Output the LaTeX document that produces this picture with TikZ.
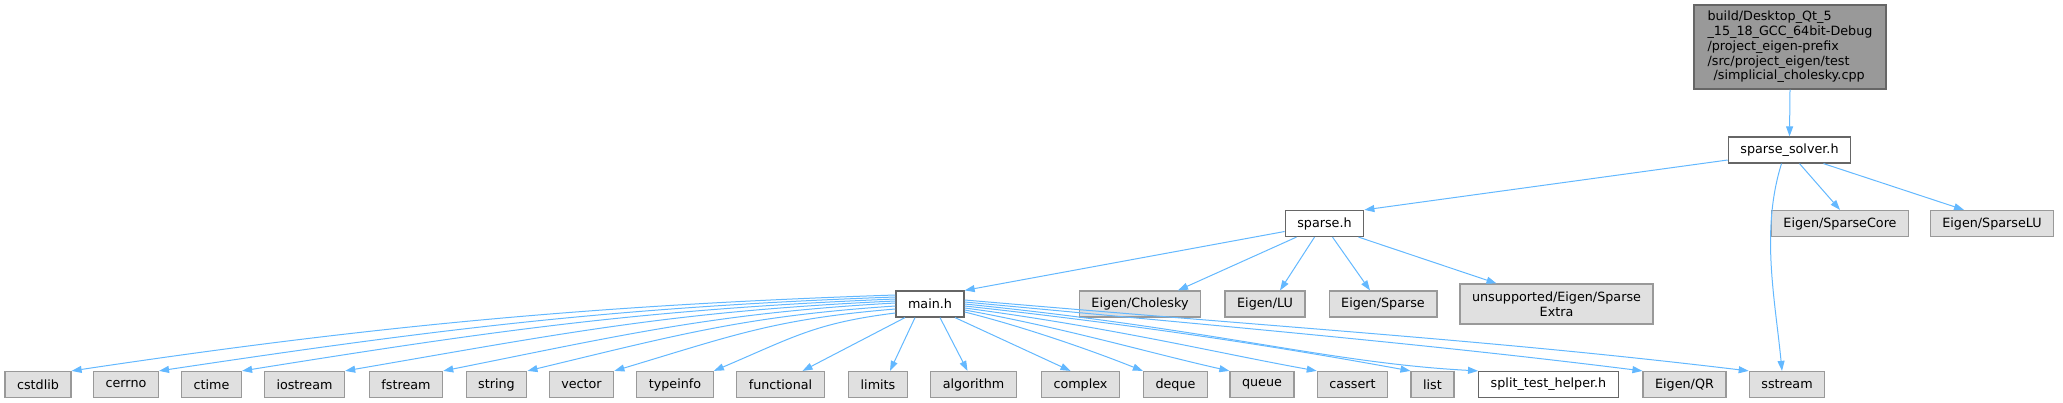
\documentclass[tikz,border=0pt]{standalone}
\usepackage{fontspec}
\setmainfont{DejaVu Sans}
\usetikzlibrary{arrows.meta}
\definecolor{edgec}{HTML}{63B8FF}
\definecolor{rootfill}{HTML}{999999}
\definecolor{bord}{HTML}{666666}
\definecolor{gfill}{HTML}{E0E0E0}
\definecolor{gbord}{HTML}{999999}
\tikzset{
 base/.style={rectangle, minimum height=26pt, inner xsep=12.1pt, inner ysep=0pt, line width=1.2pt, text=black, font=\fontsize{12.74}{14.8}\selectfont},
 wnode/.style={base, draw=bord, fill=white},
 gnode/.style={base, draw=gbord, fill=gfill},
 rootnode/.style={base, draw=bord, fill=rootfill, align=left, minimum width=192pt, minimum height=84pt},
 dep/.style={draw=edgec, line width=1pt, -{Triangle[length=10pt,width=7pt]}},
}
\begin{document}
\begin{tikzpicture}[x=1pt,y=-1pt]
\useasboundingbox (0,0) rectangle (2063,403);
% rank 0,1,2
\node[rootnode] (root) at (1790,47) {build/Desktop\_Qt\_5\\\_15\_18\_GCC\_64bit-Debug\\/project\_eigen-prefix\\/src/project\_eigen/test\\\hspace*{6pt}/simplicial\_cholesky.cpp};
\node[wnode] (ss) at (1789.5,150) {sparse\_solver.h};
\node[wnode] (sp) at (1324.5,223.5) {sparse.h};
\node[gnode] (score) at (1840,223.5) {Eigen/SparseCore};
\node[gnode] (slu) at (1992,223.5) {Eigen/SparseLU};
% rank 3
\node[wnode] (mainh) at (930,304) {main.h};
\node[gnode] (chol) at (1140,304) {Eigen/Cholesky};
\node[gnode] (lu) at (1265,304) {Eigen/LU};
\node[gnode] (esp) at (1383,304) {Eigen/Sparse};
\node[gnode, align=center, minimum height=40pt] (uns) at (1556.5,304) {unsupported/Eigen/Sparse\\Extra};
% rank 4
\node[gnode] (cstdlib) at (38,384.5) {cstdlib};
\node[gnode] (cerrno) at (126,384.5) {cerrno};
\node[gnode] (ctime) at (211.5,384.5) {ctime};
\node[gnode] (iostream) at (304.5,384.5) {iostream};
\node[gnode] (fstream) at (406,384.5) {fstream};
\node[gnode] (string) at (496.5,384.5) {string};
\node[gnode] (vector) at (581.5,384.5) {vector};
\node[gnode] (typeinfo) at (675,384.5) {typeinfo};
\node[gnode] (func) at (780.5,384.5) {functional};
\node[gnode] (lim) at (878,384.5) {limits};
\node[gnode] (alg) at (973.5,384.5) {algorithm};
\node[gnode] (cplx) at (1080.5,384.5) {complex};
\node[gnode] (deque) at (1175.5,384.5) {deque};
\node[gnode] (queue) at (1262,384.5) {queue};
\node[gnode] (cassert) at (1352.5,384.5) {cassert};
\node[gnode] (list) at (1432.5,384.5) {list};
\node[wnode] (split) at (1548.5,384.5) {split\_test\_helper.h};
\node[gnode] (qr) at (1684.5,384.5) {Eigen/QR};
\node[gnode] (sstream) at (1787,384.5) {sstream};
% edges
\draw[dep] (root.south) -- (ss.north);
\draw[dep] ([yshift=-10pt]ss.west) -- (sp.north east);
\draw[dep] ([xshift=-8pt]ss.south) .. controls +(-21,67) and +(-7,-72) .. ([xshift=-5pt]sstream.north);
\draw[dep] ([xshift=10pt]ss.south) -- (score.north);
\draw[dep] ([xshift=34pt]ss.south) -- ([xshift=-28pt]slu.north);
\draw[dep] ([yshift=-8pt]sp.west) -- (mainh.north east);
\draw[dep] ([xshift=-28pt]sp.south) -- ([xshift=38pt]chol.north);
\draw[dep] ([xshift=-10pt]sp.south) -- ([xshift=15pt]lu.north);
\draw[dep] ([xshift=8pt]sp.south) -- ([xshift=-13pt]esp.north);
\draw[dep] ([xshift=34pt]sp.south) -- ([xshift=-60pt]uns.north);
% main.h left fan
\draw[dep] ([yshift=9pt]mainh.west) .. controls +(-300,10) and +(300,-45) .. (cstdlib.north east);
\draw[dep] ([yshift=7pt]mainh.west) .. controls +(-280,10) and +(280,-42) .. (cerrno.north east);
\draw[dep] ([yshift=5pt]mainh.west) .. controls +(-250,10) and +(250,-40) .. (ctime.north east);
\draw[dep] ([yshift=3pt]mainh.west) .. controls +(-220,10) and +(220,-38) .. (iostream.north east);
\draw[dep] ([yshift=1pt]mainh.west) .. controls +(-180,10) and +(180,-36) .. (fstream.north east);
\draw[dep] ([yshift=-2pt]mainh.west) .. controls +(-150,10) and +(150,-36) .. (string.north east);
\draw[dep] ([yshift=-5pt]mainh.west) .. controls +(-120,10) and +(120,-36) .. (vector.north east);
\draw[dep] ([yshift=-9pt]mainh.west) .. controls +(-80,10) and +(80,-34) .. (typeinfo.north east);
\draw[dep] ([xshift=-25pt]mainh.south) -- ([xshift=22pt]func.north);
\draw[dep] ([xshift=-15pt]mainh.south) -- ([xshift=12pt]lim.north);
\draw[dep] ([xshift=10pt]mainh.south) -- ([xshift=-6pt]alg.north);
\draw[dep] ([xshift=25pt]mainh.south) -- ([xshift=-10pt]cplx.north);
% main.h right fan
\draw[dep] ([yshift=-8pt]mainh.east) .. controls +(60,15) and +(-50,-20) .. (deque.north west);
\draw[dep] ([yshift=-6pt]mainh.east) .. controls +(100,18) and +(-80,-18) .. (queue.north west);
\draw[dep] ([yshift=-4pt]mainh.east) .. controls +(150,20) and +(-100,-18) .. (cassert.north west);
\draw[dep] ([yshift=-2pt]mainh.east) .. controls +(200,22) and +(-110,-20) .. (list.north west);
\draw[dep] ([yshift=0pt]mainh.east) .. controls +(250,25) and +(-150,-8) .. (split.north west);
\draw[dep] ([yshift=2pt]mainh.east) .. controls +(300,28) and +(-200,-25) .. (qr.north west);
\draw[dep] ([yshift=4pt]mainh.east) .. controls +(350,30) and +(-250,-30) .. (sstream.north west);
\end{tikzpicture}
\end{document}
